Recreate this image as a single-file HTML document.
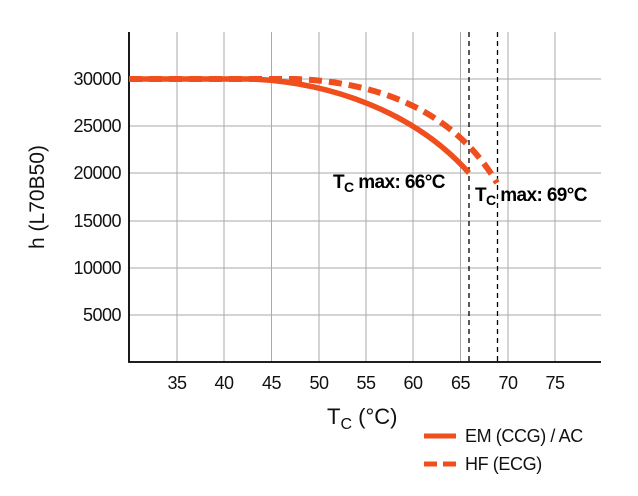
<!DOCTYPE html>
<html><head><style>
html,body{margin:0;padding:0;background:#fff;}
svg{display:block;font-family:"Liberation Sans",Arial,sans-serif;}
</style></head><body>
<svg width="638" height="496" viewBox="0 0 638 496">
<g stroke="#aaa" stroke-width="1">
<line x1="177" y1="32" x2="177" y2="362"/>
<line x1="224" y1="32" x2="224" y2="362"/>
<line x1="271.5" y1="32" x2="271.5" y2="362"/>
<line x1="319" y1="32" x2="319" y2="362"/>
<line x1="366" y1="32" x2="366" y2="362"/>
<line x1="413" y1="32" x2="413" y2="362"/>
<line x1="460.5" y1="32" x2="460.5" y2="362"/>
<line x1="508" y1="32" x2="508" y2="362"/>
<line x1="555" y1="32" x2="555" y2="362"/>
<line x1="129" y1="79" x2="601" y2="79"/>
<line x1="129" y1="126" x2="601" y2="126"/>
<line x1="129" y1="173" x2="601" y2="173"/>
<line x1="129" y1="221" x2="601" y2="221"/>
<line x1="129" y1="268" x2="601" y2="268"/>
<line x1="129" y1="315" x2="601" y2="315"/>
</g>
<g stroke="#000" stroke-width="1.3" stroke-dasharray="5,4">
<line x1="469" y1="32" x2="469" y2="362"/>
<line x1="497.5" y1="32" x2="497.5" y2="362"/>
</g>
<path d="M129 32 V362 H601" fill="none" stroke="#000" stroke-width="1.8"/>
<path d="M129 79 L250 79 C330 82 415 112 469 173" fill="none" stroke="#f04e1c" stroke-width="5.5"/>
<path d="M129 79 L295 79 C380 82 455 112 497 183" fill="none" stroke="#f04e1c" stroke-width="6" stroke-dasharray="13,7"/>
<g font-size="18" fill="#111" text-anchor="end" letter-spacing="-0.5">
<text x="121" y="85">30000</text>
<text x="121" y="132">25000</text>
<text x="121" y="179">20000</text>
<text x="121" y="227">15000</text>
<text x="121" y="274">10000</text>
<text x="121" y="321">5000</text>
</g>
<g font-size="18" fill="#111" text-anchor="middle" letter-spacing="-0.5">
<text x="177" y="389">35</text><text x="224" y="389">40</text><text x="271.5" y="389">45</text>
<text x="319" y="389">50</text><text x="366" y="389">55</text><text x="413" y="389">60</text>
<text x="460.5" y="389">65</text><text x="508" y="389">70</text><text x="555" y="389">75</text>
</g>
<text transform="translate(44 197) rotate(-90)" font-size="21" text-anchor="middle" fill="#111">h (L70B50)</text>
<text x="327" y="424" font-size="22" fill="#111">T<tspan font-size="16" dy="5">C</tspan><tspan dy="-5"> (°C)</tspan></text>
<text x="333" y="188" font-size="19" font-weight="bold" fill="#000" letter-spacing="-0.6">T<tspan font-size="14" dy="4">C</tspan><tspan dy="-4"> max: 66°C</tspan></text>
<text x="475" y="201" font-size="19" font-weight="bold" fill="#000" letter-spacing="-0.6">T<tspan font-size="14" dy="4">C</tspan><tspan dy="-4"> max: 69°C</tspan></text>
<line x1="424" y1="436" x2="456" y2="436" stroke="#f04e1c" stroke-width="5"/>
<line x1="424" y1="464" x2="456" y2="464" stroke="#f04e1c" stroke-width="5" stroke-dasharray="13,6"/>
<text x="465" y="442" font-size="18" fill="#111" letter-spacing="-0.4">EM (CCG) / AC</text>
<text x="465" y="470" font-size="18" fill="#111" letter-spacing="-0.4">HF (ECG)</text>
</svg>
</body></html>
